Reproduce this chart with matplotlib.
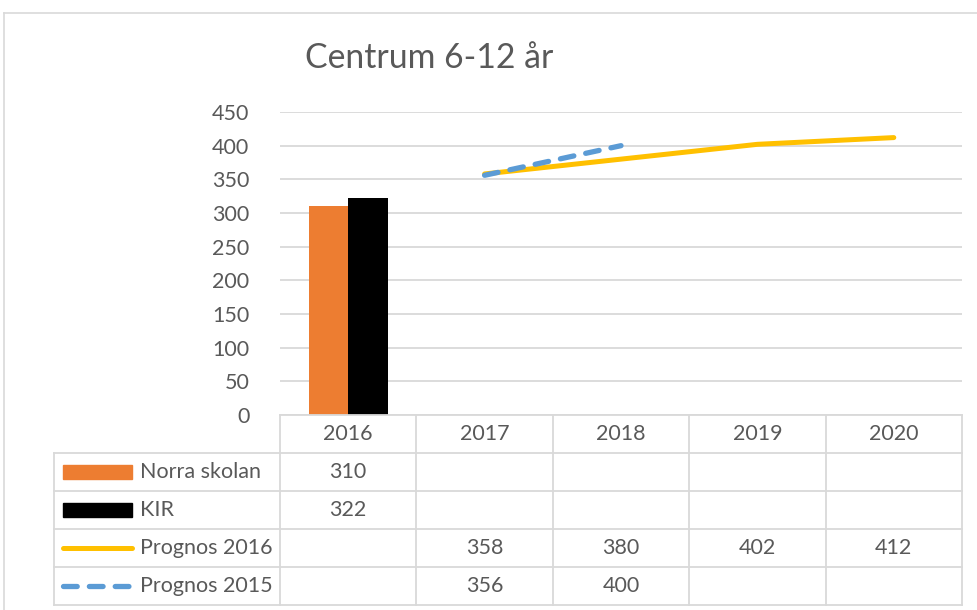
import matplotlib
matplotlib.use("Agg")
import matplotlib.pyplot as plt
from matplotlib.lines import Line2D
from matplotlib.patches import Rectangle

plt.rcParams['font.family'] = ['Lato', 'DejaVu Sans']

# data
years = ["2016", "2017", "2018", "2019", "2020"]
norra_skolan = [310, None, None, None, None]
kir = [322, None, None, None, None]
prognos_2016 = [None, 358, 380, 402, 412]
prognos_2015 = [None, 356, 400, None, None]
series_names = ["Norra skolan", "KIR", "Prognos 2016", "Prognos 2015"]

ORANGE = "#ED7D31"
BLACK = "#000000"
YELLOW = "#FFC000"
BLUE = "#5B9BD5"
GRID = "#D9D9D9"
TXT = "#595959"

W, H = 977, 610
fig = plt.figure(figsize=(W / 100, H / 100), dpi=100)

def fx(px):
    return px / W

def fy(py):
    return 1 - py / H

# outer chart frame
fig.add_artist(Line2D([fx(4), 1], [fy(13), fy(13)], color=GRID, lw=1.2))
fig.add_artist(Line2D([fx(4), fx(4)], [fy(13), 0], color=GRID, lw=1.2))

fig.text(fx(305), fy(68), "Centrum 6-12 år", fontsize=24.3, color=TXT,
         ha="left", va="baseline")

# main plot area
L, R, T, B = 280, 962, 112, 415
ax = fig.add_axes([fx(L), fy(B), fx(R - L), (B - T) / H])
n = len(years)
x = list(range(n))
ax.set_xlim(-0.5, n - 0.5)
ax.set_ylim(0, 450)
ax.set_yticks(range(0, 451, 50))
ax.set_xticks([])
ax.grid(axis="y", color=GRID, lw=1.3)
ax.set_axisbelow(True)
for s in ax.spines.values():
    s.set_visible(False)
ax.tick_params(axis="y", length=0, labelsize=15.5, labelcolor=TXT, pad=22)

bw = 0.29
ax.bar([i - bw / 2 for i, v in enumerate(norra_skolan) if v is not None],
       [v for v in norra_skolan if v is not None], width=bw, color=ORANGE)
ax.bar([i + bw / 2 for i, v in enumerate(kir) if v is not None],
       [v for v in kir if v is not None], width=bw, color=BLACK)

px16 = [i for i, v in enumerate(prognos_2016) if v is not None]
ax.plot(px16, [prognos_2016[i] for i in px16], color=YELLOW, lw=3.6,
        solid_capstyle="round")
px15 = [i for i, v in enumerate(prognos_2015) if v is not None]
ax.plot(px15, [prognos_2015[i] for i in px15], color=BLUE, lw=3.8,
        dashes=(2.6, 2.3), dash_capstyle="round")

# data table
TL, TB = 54, 605
unit = (R - L) / n
xmin = -0.5 - (L - TL) / unit
ax_t = fig.add_axes([fx(TL), fy(TB), fx(R - TL), (TB - B) / H])
ax_t.set_xlim(xmin, n - 0.5)
ax_t.set_ylim(5, 0)
ax_t.axis("off")

def tx(px):
    return xmin + (px - TL) / unit

lk = dict(color=GRID, lw=1.3, clip_on=False)
for k in range(n + 1):
    ax_t.plot([k - 0.5, k - 0.5], [0, 5], **lk)
ax_t.plot([xmin, xmin], [1, 5], **lk)
ax_t.plot([-0.5, n - 0.5], [0, 0], **lk)
for r in range(1, 6):
    ax_t.plot([xmin, n - 0.5], [r, r], **lk)

for i, yr in enumerate(years):
    ax_t.text(i, 0.5, yr, ha="center", va="center", fontsize=15.5, color=TXT)

rows = [norra_skolan, kir, prognos_2016, prognos_2015]
for r, vals in enumerate(rows, start=1):
    for i, v in enumerate(vals):
        if v is not None:
            ax_t.text(i, r + 0.5, str(v), ha="center", va="center",
                      fontsize=15.5, color=TXT)
    ax_t.text(tx(140), r + 0.5, series_names[r - 1], ha="left", va="center",
              fontsize=15.5, color=TXT)

k0, k1 = tx(63), tx(132)
ax_t.add_patch(Rectangle((k0, 1.32), k1 - k0, 0.36, color=ORANGE))
ax_t.add_patch(Rectangle((k0, 2.32), k1 - k0, 0.36, color=BLACK))
ax_t.plot([k0, k1], [3.5, 3.5], color=YELLOW, lw=3.6, solid_capstyle="round")
ax_t.plot([k0, k1], [4.5, 4.5], color=BLUE, lw=3.8, dashes=(2.6, 2.3),
          dash_capstyle="round")

fig.savefig("out.png", dpi=100)
